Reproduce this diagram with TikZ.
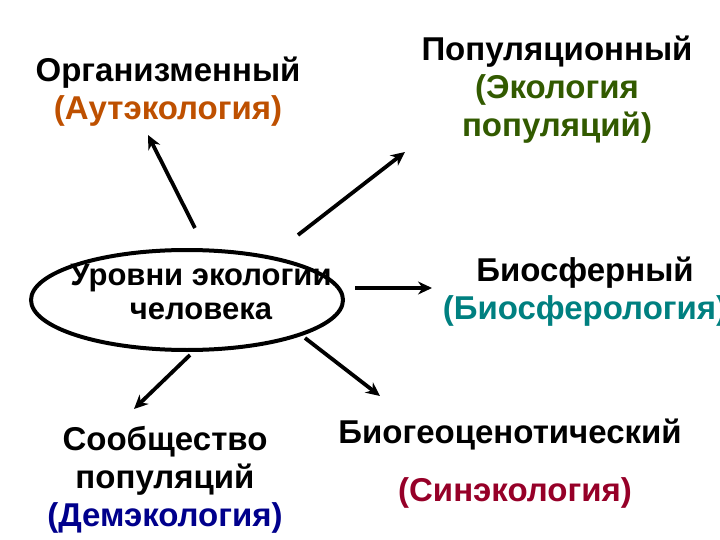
\documentclass[tikz,border=0pt]{standalone}
\usepackage{fontspec}
\setmainfont{Liberation Sans}
\usetikzlibrary{arrows.meta}
\definecolor{corange}{RGB}{190,80,0}
\definecolor{cgreen}{RGB}{50,90,0}
\definecolor{cteal}{RGB}{0,128,128}
\definecolor{cred}{RGB}{150,0,40}
\definecolor{cblue}{RGB}{0,0,140}
\tikzset{lbl/.style={font=\fontsize{33}{38}\selectfont\bfseries, align=center, inner sep=0pt},
 arr/.style={line width=3.8pt, -{Stealth[length=14pt,width=13pt]}}}
\begin{document}
\begin{tikzpicture}[x=1pt,y=-1pt]
\useasboundingbox (0,0) rectangle (720,540);
\draw[line width=4pt] (187,300) ellipse[x radius=156, y radius=50];
\node[lbl, font=\fontsize{31}{34}\selectfont\bfseries] (c) at (201,292) {Уровни экологии\\человека};
\node[lbl, anchor=north] (o) at (168,57) {Организменный\\\textcolor{corange}{(Аутэкология)}};
\node[lbl, anchor=north] (p) at (557,36) {Популяционный\\\textcolor{cgreen}{(Экология}\\\textcolor{cgreen}{популяций)}};
\node[lbl, anchor=north] (b) at (585,257) {Биосферный\\\textcolor{cteal}{(Биосферология)}};
\node[lbl] (g1) at (510,435) {Биогеоценотический};
\node[lbl] (g2) at (515,493) {\textcolor{cred}{(Синэкология)}};
\node[lbl, anchor=north] (s) at (165,426) {Сообщество\\популяций\\\textcolor{cblue}{(Демэкология)}};
\coordinate (a1s) at (195,228); \coordinate (a1e) at (148,135);
\coordinate (a2s) at (298,235); \coordinate (a2e) at (405,152);
\coordinate (a3s) at (355,288); \coordinate (a3e) at (432,288);
\coordinate (a4s) at (305,338); \coordinate (a4e) at (380,396);
\coordinate (a5s) at (190,355); \coordinate (a5e) at (134,409);
\draw[arr] (a1s) -- (a1e);
\draw[arr] (a2s) -- (a2e);
\draw[arr] (a3s) -- (a3e);
\draw[arr] (a4s) -- (a4e);
\draw[arr] (a5s) -- (a5e);
\end{tikzpicture}
\end{document}
